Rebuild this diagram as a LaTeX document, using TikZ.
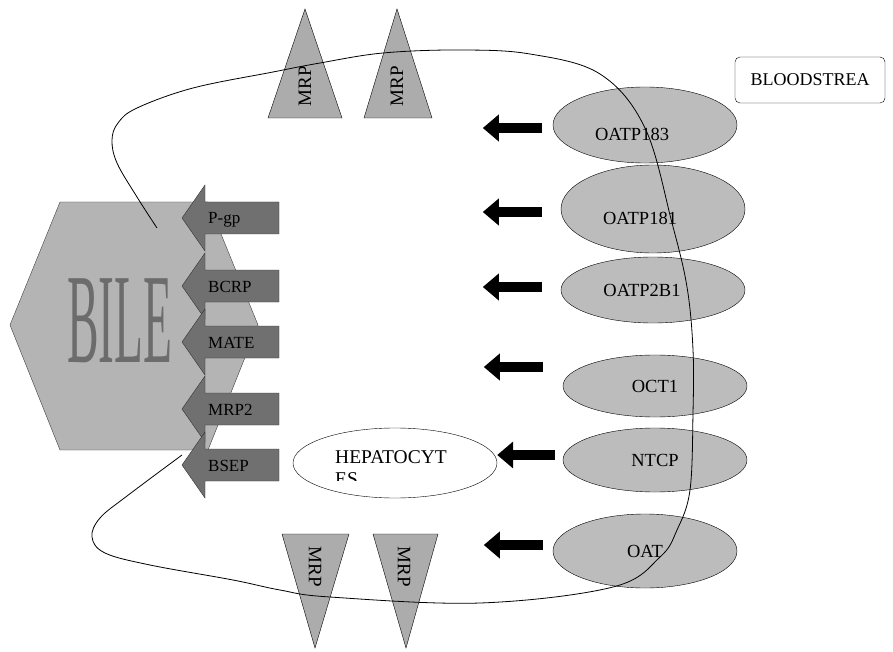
\documentclass[tikz,border=0pt]{standalone}
\usepackage{fontspec}
\setmainfont{Liberation Serif}
\usetikzlibrary{shapes, arrows.meta}
\definecolor{hexgray}{RGB}{180,180,180}
\definecolor{pumpgray}{RGB}{112,112,112}
\definecolor{cargray}{RGB}{188,188,188}
\definecolor{bilegray}{RGB}{108,108,108}
\tikzstyle{carrier} = [ellipse, draw, fill=cargray, minimum width=184pt, inner sep=0pt, font=\fontsize{18.5}{20}\selectfont]
\tikzstyle{lowtext} = [text height=32pt, text depth=0pt]
\tikzstyle{pump} = [draw=black!80, fill=pumpgray]
\tikzstyle{pumptext} = [anchor=base west, inner sep=0pt, font=\fontsize{17}{19}\selectfont]
\tikzstyle{inflow} = [line width=10pt, -{Triangle[length=16pt, width=26pt]}]
\tikzstyle{mrp} = [draw, fill=gray!65]
\tikzstyle{mrptext} = [inner sep=0pt, font=\fontsize{19}{21}\selectfont]
\tikzstyle{hepatext} = [anchor=base west, inner sep=0pt, font=\fontsize{19.5}{21}\selectfont]

\begin{document}
\begin{tikzpicture}[x=1pt, y=-1pt]
  \useasboundingbox (0,0) rectangle (893,652);

  % bile side
  \draw[draw=black!75, fill=hexgray] (10,325) -- (60,202) -- (208,202) -- (258,325) -- (208,450) -- (60,450) -- cycle;
  \node[text=bilegray, inner sep=0pt] (bile) at (120,321) {\scalebox{0.37}[1]{\fontsize{128}{128}\selectfont BILE}};

  % efflux pumps
  \foreach \y/\name/\txt in {218/pgp/P-gp, 286/bcrp/BCRP, 342/mate/MATE, 409/mrptwo/MRP2, 465/bsep/BSEP} {
    \draw[pump] (279,\y-16) -- (205,\y-16) -- (205,\y-33) -- (182,\y) -- (205,\y+33) -- (205,\y+16) -- (279,\y+16) -- cycle;
    \begin{scope}
      \clip (205,\y-16) rectangle (279,\y+10);
      \node[pumptext] (\name) at (208,\y+6) {\txt};
    \end{scope}
  }

  % hepatocyte
  \node[ellipse, draw, fill=white, minimum width=204pt, minimum height=70pt] (hepa) at (395,463) {};
  \node[hepatext] (hepatxt) at (335,463) {HEPATOCYT};
  \begin{scope}
    \clip (330,468) rectangle (380,480);
    \node[hepatext] (hepaes) at (335,485) {ES};
  \end{scope}

  % uptake carriers
  \node[carrier, lowtext, minimum height=76pt] (oatp183) at (645,125) {OATP183\kern26pt};
  \node[carrier, lowtext, minimum height=88pt] (oatp181) at (653,209) {OATP181\kern26pt};
  \node[carrier, minimum height=66pt] (oatp2b1) at (653,290) {OATP2B1\kern22pt};
  \node[carrier, minimum height=62pt] (oct1) at (655,386) {OCT1};
  \node[carrier, minimum height=64pt] (ntcp) at (655,460) {NTCP};
  \node[carrier, minimum height=74pt] (oat) at (645,551) {OAT};

  \draw[inflow] ([xshift=-11pt, yshift=-3pt]oatp183.west) -- ++(-59,0);
  \draw[inflow] ([xshift=-19pt, yshift=-3pt]oatp181.west) -- ++(-59,0);
  \draw[inflow] ([xshift=-19pt, yshift=3pt]oatp2b1.west) -- ++(-59,0);
  \draw[inflow] ([xshift=-20pt, yshift=19pt]oct1.west) -- ++(-59,0);
  \draw[inflow] ([xshift=-8pt, yshift=5pt]ntcp.west) -- ([yshift=8pt]hepa.east);
  \draw[inflow] ([xshift=-10pt, yshift=6pt]oat.west) -- ++(-59,0);

  % MRP
  \draw[mrp] (305,9) -- (342,118) -- (268,118) -- cycle;
  \node[mrptext, rotate=90] (mrpa) at (305,86) {MRP};
  \draw[mrp] (397,9) -- (432,118) -- (364,118) -- cycle;
  \node[mrptext, rotate=90] (mrpb) at (397,86) {MRP};
  \draw[mrp] (282,534) -- (349,534) -- (315,648) -- cycle;
  \node[mrptext, rotate=-90] (mrpc) at (315,567) {MRP};
  \draw[mrp] (373,534) -- (438,534) -- (406,648) -- cycle;
  \node[mrptext, rotate=-90] (mrpd) at (404,567) {MRP};

  \node[draw, rounded corners=5pt, minimum width=150pt, minimum height=46pt, font=\fontsize{18}{20}\selectfont] (blood) at (810,80) {BLOODSTREA};

  % circulation
  \draw[line width=0.8pt] plot[smooth, tension=0.6] coordinates {(157,228) (137,197) (117,163) (112,140) (118,123) (137,108) (193,88) (273,72) (320,63) (383,53) (460,50) (530,54) (600,74) (645,128) (672,223) (687,287) (693,350) (693,413) (690,490) (677,530) (660,557) (613,587) (480,603) (330,597) (280,590) (233,580) (150,565) (105,553) (92,537) (100,518) (127,496) (182,455)};
\end{tikzpicture}
\end{document}
